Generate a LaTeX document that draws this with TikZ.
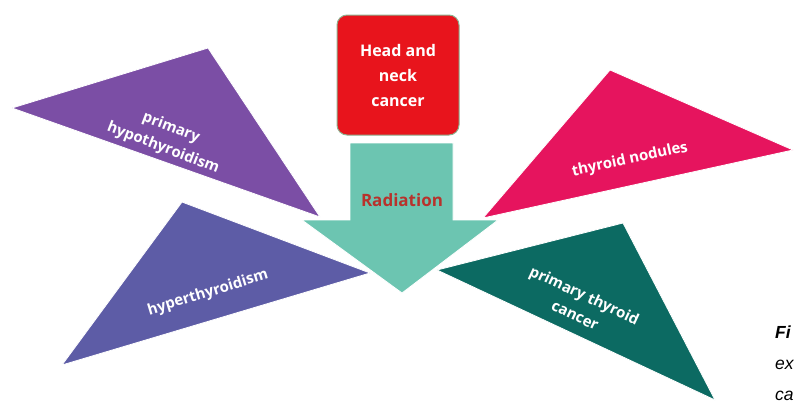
\documentclass[tikz,border=0pt]{standalone}
\usepackage{fontspec}
\usepackage{xcolor}
\usepackage{tikz}
\newfontfamily\lblfont{Open Sans}
\newfontfamily\capfont{Liberation Sans}
\definecolor{hncRed}{HTML}{E8141C}
\definecolor{hncEdge}{HTML}{8DB08F}
\definecolor{radTeal}{HTML}{6CC5B1}
\definecolor{radText}{HTML}{B8322C}
\definecolor{triHypo}{HTML}{7B4EA5}
\definecolor{triHyper}{HTML}{5D5CA6}
\definecolor{triNod}{HTML}{E6145E}
\definecolor{triCan}{HTML}{0C6A62}

\begin{document}
\begin{tikzpicture}[x=1pt,y=-1pt,tri/.style={draw=white, line width=0.8pt},tlbl/.style={font=\lblfont\bfseries\fontsize{15}{22}\selectfont, text=white, align=center, inner sep=0pt},hncbox/.style={draw=hncEdge, line width=1pt, fill=hncRed, rounded corners=10pt, minimum width=122pt, minimum height=120pt, align=center, text=white, font=\lblfont\bfseries\fontsize{16}{25}\selectfont}]
\useasboundingbox (0,0) rectangle (794,402);
% outcomes
\path[tri, fill=triHypo] (12,108) -- (208,48) -- (320,217) -- cycle;
\path[tri, fill=triNod] (610,70) -- (793,150) -- (483,218) -- cycle;
\path[tri, fill=triHyper] (182,202) -- (370,273) -- (62,365) -- cycle;
\path[tri, fill=triCan] (437,270) -- (623,223) -- (715,400) -- cycle;
% radiation arrow
\path[tri, fill=radTeal] (350,143) -- (453,143) -- (453,220) -- (498,220) -- (402,293) -- (302,220) -- (350,220) -- cycle;
\node[hncbox] (hnc) at (398,75) {Head and\\neck\\cancer};
\node[font=\lblfont\bfseries\fontsize{17}{20}\selectfont, text=radText] (rad) at (402,200) {Radiation};
\node[tlbl, rotate=-21] (hypo) at (167,138) {primary\\hypothyroidism};
\node[tlbl, rotate=12] (nod) at (630,160) {thyroid nodules};
\node[tlbl, rotate=17] (hyper) at (208,293) {hyperthyroidism};
\node[tlbl, rotate=-25] (can) at (580,305) {primary thyroid\\cancer};
\node[anchor=base west, inner sep=0pt, align=left, font=\capfont\itshape\fontsize{17.5}{31}\selectfont] (cap) at (775,400) {\textbf{Fi}\\ex\\ca};
\end{tikzpicture}
\end{document}
